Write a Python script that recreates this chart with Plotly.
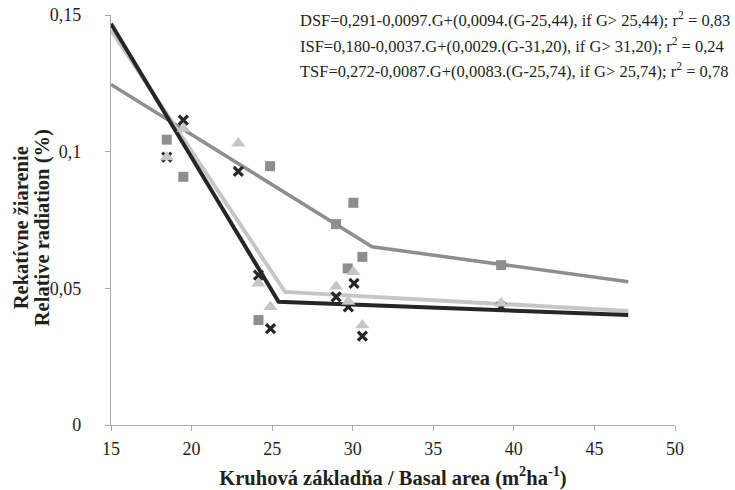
import plotly.graph_objects as go

# ---- data ----
dsf_x = [18.46, 19.49, 22.9, 24.15, 24.9, 28.97, 29.73, 30.08, 30.6, 39.21]
dsf_y = [0.098, 0.1115, 0.0928, 0.0548, 0.0353, 0.0469, 0.0432, 0.0518, 0.0325, 0.0432]

isf_x = [18.46, 19.49, 24.15, 24.87, 28.97, 29.69, 30.04, 30.6, 39.21]
isf_y = [0.1044, 0.0908, 0.0384, 0.0947, 0.0735, 0.0573, 0.0813, 0.0615, 0.0585]

tsf_x = [18.46, 19.5, 22.9, 24.15, 24.9, 28.97, 29.73, 30.04, 30.6, 39.21]
tsf_y = [0.098, 0.1084, 0.103, 0.0518, 0.0432, 0.0506, 0.0451, 0.056, 0.0365, 0.0445]

# piecewise fitted lines (start, breakpoint, end)
dsf_fit_x = [15, 25.4, 47.1]
dsf_fit_y = [0.1468, 0.0451, 0.0402]
tsf_fit_x = [15, 25.8, 47.1]
tsf_fit_y = [0.1445, 0.0487, 0.0417]
isf_fit_x = [15, 31.2, 47.1]
isf_fit_y = [0.1246, 0.0652, 0.0524]

x_ticks = [15, 20, 25, 30, 35, 40, 45, 50]
y_ticks = [0, 0.05, 0.1, 0.15]
y_tick_text = ["0", "0,05", "0,1", "0,15"]

equations = [
    "DSF=0,291-0,0097.G+(0,0094.(G-25,44), if G&gt; 25,44); r<sup>2</sup> = 0,83",
    "ISF=0,180-0,0037.G+(0,0029.(G-31,20), if G&gt; 31,20); r<sup>2</sup> = 0,24",
    "TSF=0,272-0,0087.G+(0,0083.(G-25,74), if G&gt; 25,74); r<sup>2</sup> = 0,78",
]

BLACK = "#262626"
LIGHT = "#c6c6c6"
MID = "#8e8e8e"
AXIS = "#a8a8a8"
TEXT = "#231f20"
FONT = "Liberation Serif"

fig = go.Figure()

fig.add_trace(go.Scatter(x=isf_fit_x, y=isf_fit_y, mode="lines",
                         line=dict(color=MID, width=3.5)))
fig.add_trace(go.Scatter(x=tsf_fit_x, y=tsf_fit_y, mode="lines",
                         line=dict(color=LIGHT, width=4)))
fig.add_trace(go.Scatter(x=dsf_fit_x, y=dsf_fit_y, mode="lines",
                         line=dict(color=BLACK, width=4)))

fig.add_trace(go.Scatter(x=isf_x, y=isf_y, mode="markers",
                         marker=dict(symbol="square", size=10, color=MID)))
fig.add_trace(go.Scatter(x=dsf_x, y=dsf_y, mode="markers",
                         marker=dict(symbol="x-thin", size=9,
                                     line=dict(color=BLACK, width=3.2))))
fig.add_trace(go.Scatter(x=tsf_x, y=tsf_y, mode="markers",
                         marker=dict(symbol="triangle-up", size=12.5, color=LIGHT)))

annotations = []
eq_y = [0.988, 0.926, 0.865]
for txt, yy in zip(equations, eq_y):
    annotations.append(dict(text=txt, xref="paper", yref="paper", x=0.3316, y=yy,
                            xanchor="left", yanchor="middle", showarrow=False,
                            font=dict(family=FONT, size=16.5, color=TEXT)))

# y axis title (two lines)
annotations.append(dict(text="<b>Rekatívne žiarenie</b>", xref="paper", yref="paper",
                        x=(21 - 111) / 564, y=0.48, textangle=-90,
                        xanchor="center", yanchor="middle", showarrow=False,
                        font=dict(family=FONT, size=20.5, color=TEXT)))
annotations.append(dict(text="<b>Relative radiation (%)</b>", xref="paper", yref="paper",
                        x=(42 - 111) / 564, y=0.48, textangle=-90,
                        xanchor="center", yanchor="middle", showarrow=False,
                        font=dict(family=FONT, size=20.5, color=TEXT)))

fig.update_layout(
    width=735, height=490,
    margin=dict(l=111, r=60, t=15, b=65, autoexpand=False),
    paper_bgcolor="white", plot_bgcolor="white",
    showlegend=False,
    separators=", ",
    font=dict(family=FONT, color=TEXT),
    annotations=annotations,
    xaxis=dict(
        range=[15, 50], tickvals=x_ticks, ticktext=[str(v) for v in x_ticks],
        automargin=False,
        showgrid=False, zeroline=False, showline=True, linecolor=AXIS, linewidth=1.3,
        ticks="outside", ticklen=5, tickcolor=AXIS, tickwidth=1.3,
        tickfont=dict(family=FONT, size=18, color=TEXT),
        ticklabelstandoff=2,
        title=dict(text="<b>Kruhová základňa / Basal area (m<sup>2</sup>ha<sup>-1</sup>)</b>",
                   font=dict(family=FONT, size=20.5, color=TEXT), standoff=16),
    ),
    yaxis=dict(
        range=[0, 0.15], tickvals=y_ticks, ticktext=y_tick_text,
        automargin=False,
        showgrid=False, zeroline=False, showline=True, linecolor=AXIS, linewidth=1.3,
        ticks="outside", ticklen=5, tickcolor=AXIS, tickwidth=1.3,
        tickfont=dict(family=FONT, size=18, color=TEXT),
        ticklabelstandoff=20,
    ),
)

fig.write_html("out.html")
